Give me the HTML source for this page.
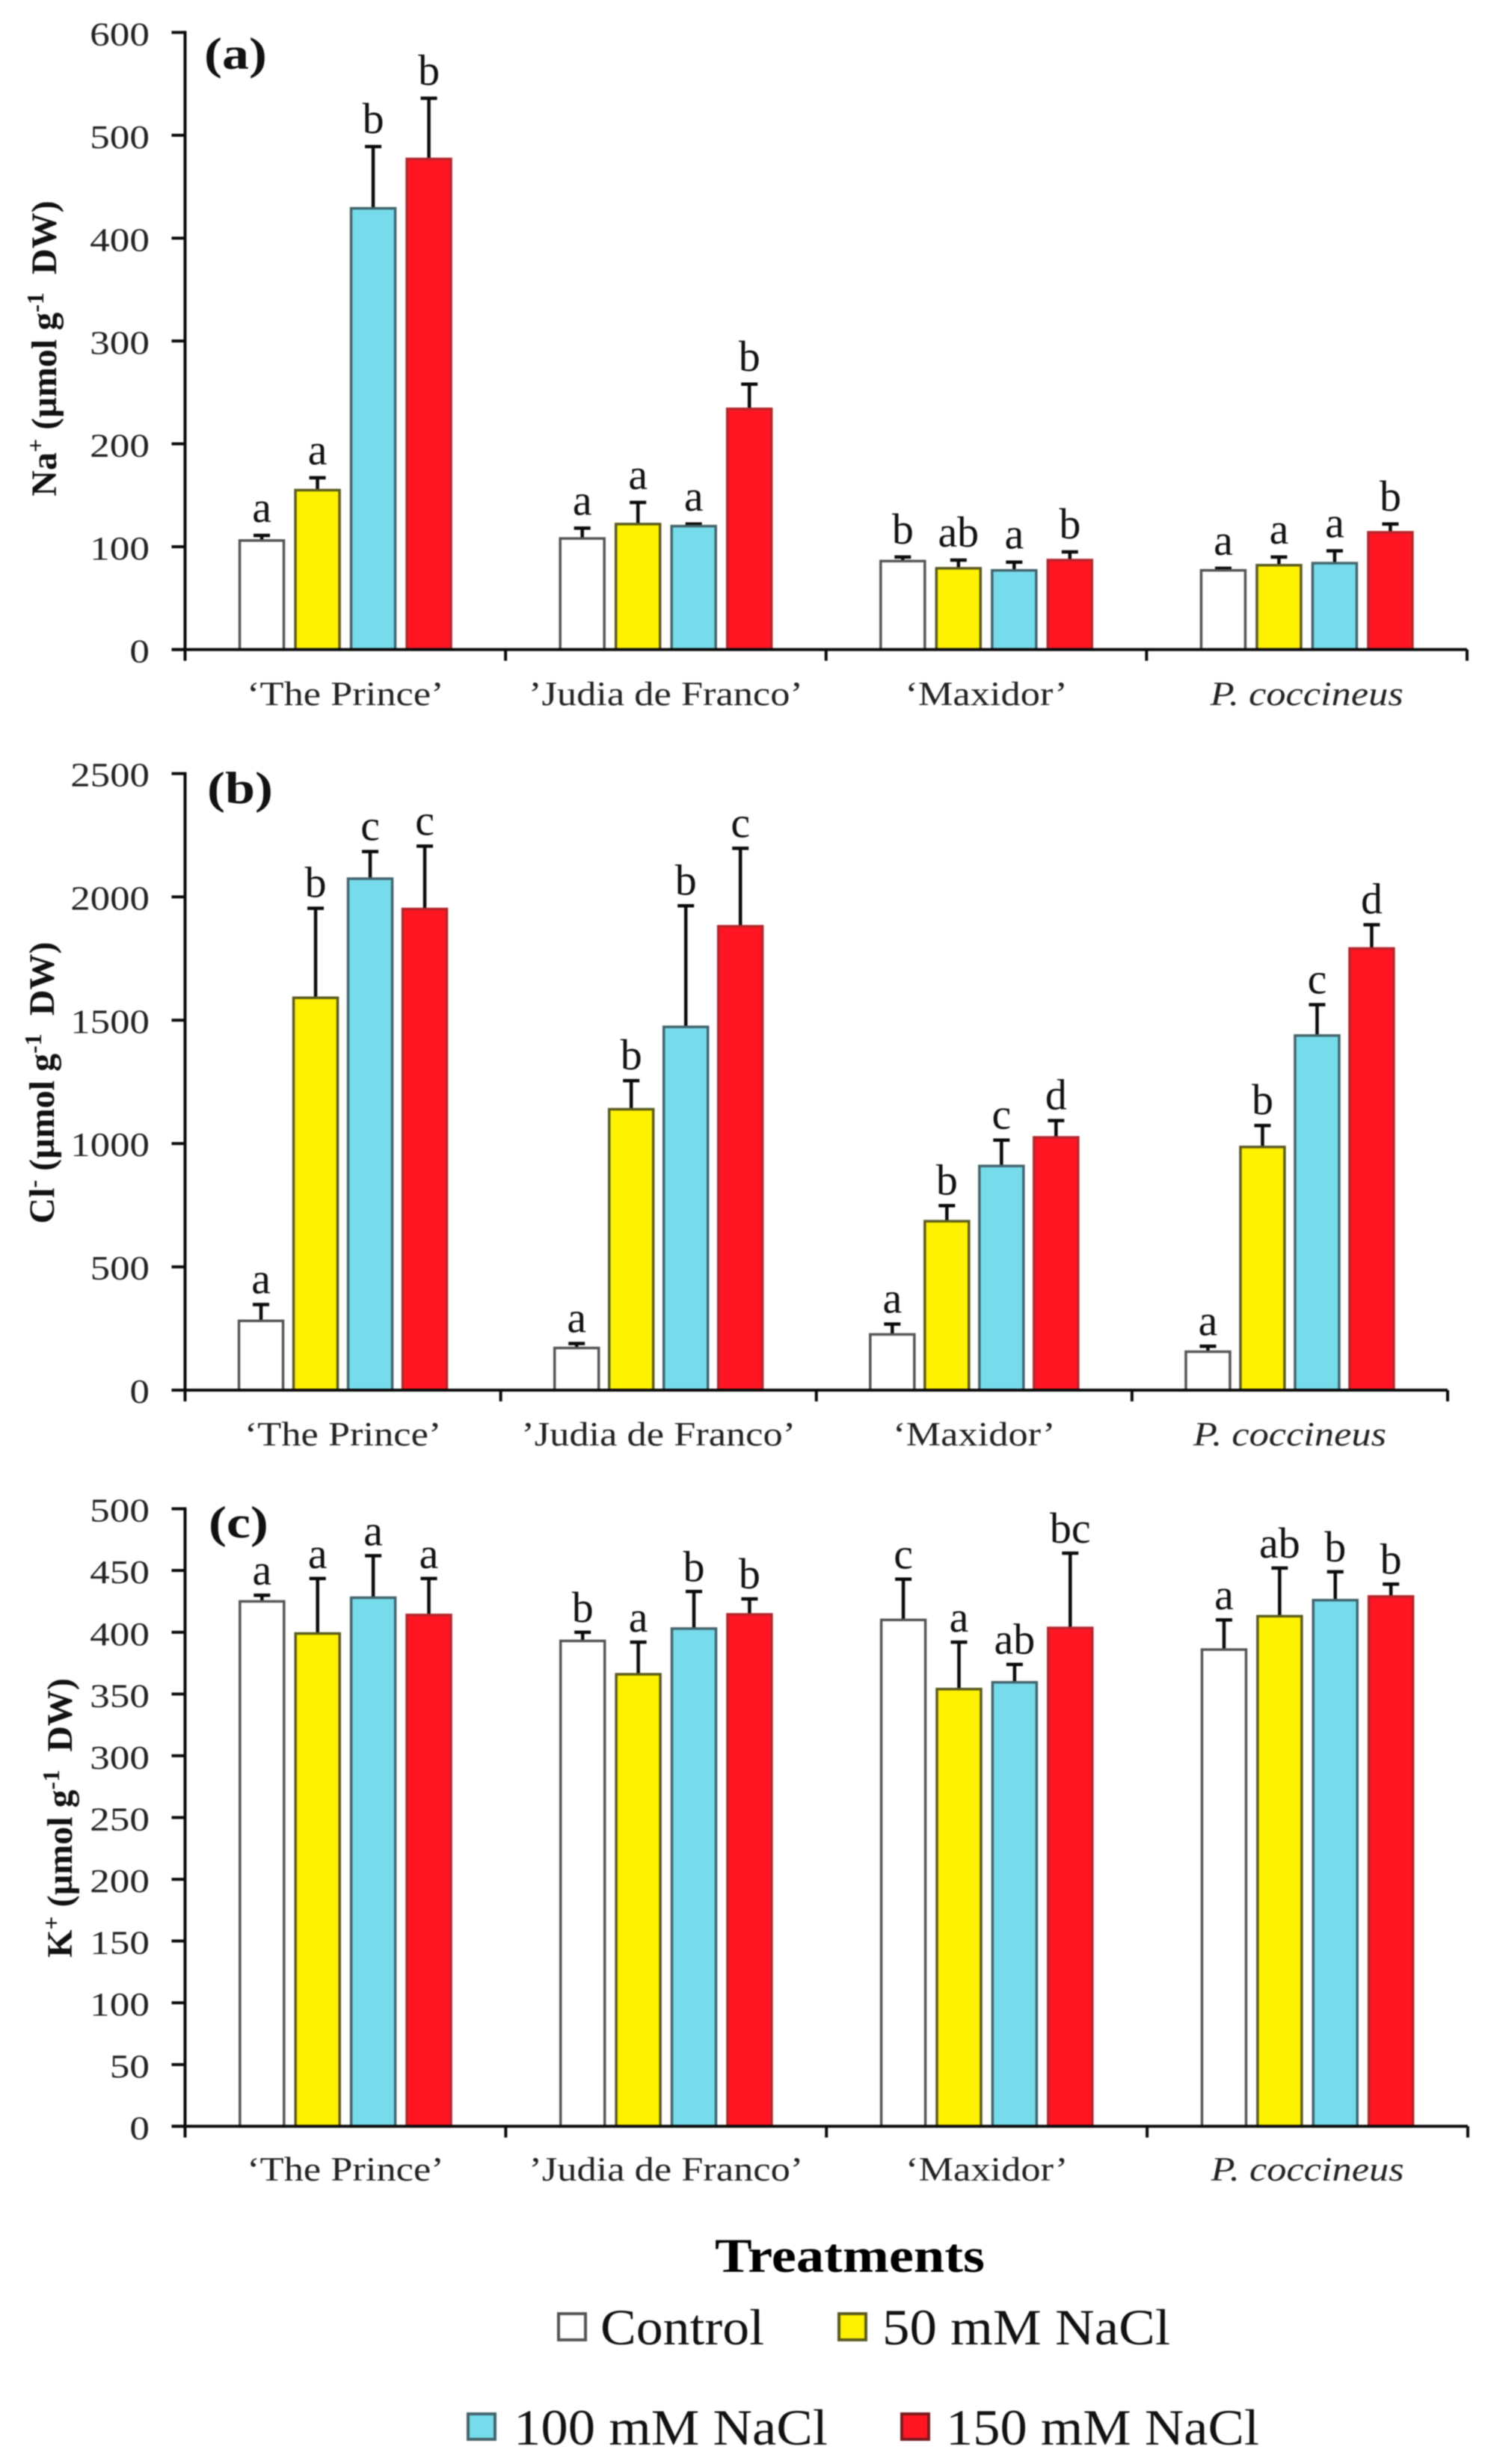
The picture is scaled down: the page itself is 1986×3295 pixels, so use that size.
<!DOCTYPE html>
<html lang="en">
<head>
<meta charset="utf-8">
<title>Na+, Cl- and K+ content by treatment</title>
<style>
html,body{margin:0;padding:0;background:#fff;}
svg{display:block;filter:blur(0.7px);font-family:"Liberation Serif",serif;}
</style>
</head>
<body>
<svg id="figure" xmlns="http://www.w3.org/2000/svg" width="1986" height="3295" viewBox="0 0 1986 3295">
  <rect width="1986" height="3295" fill="#ffffff"/>

  <text transform="translate(75,466) rotate(-90)" text-anchor="middle" font-size="48" font-weight="bold" fill="#111">Na<tspan dy="-17" font-size="32">+</tspan><tspan dy="17"> (µmol g</tspan><tspan dy="-17" font-size="32">-1</tspan><tspan dy="17">&#160; DW)</tspan></text>
  <text transform="translate(72,1448) rotate(-90)" text-anchor="middle" font-size="48" font-weight="bold" fill="#111">Cl<tspan dy="-17" font-size="32">-</tspan><tspan dy="17"> (µmol g</tspan><tspan dy="-17" font-size="32">-1</tspan><tspan dy="17">&#160; DW)</tspan></text>
  <text transform="translate(96,2431) rotate(-90)" text-anchor="middle" font-size="48" font-weight="bold" fill="#111">K<tspan dy="-17" font-size="32">+</tspan><tspan dy="17"> (µmol g</tspan><tspan dy="-17" font-size="32">-1</tspan><tspan dy="17">&#160; DW)</tspan></text>

  <text transform="translate(273,92) scale(1.2,1)" font-size="60" font-weight="bold" fill="#111">(a)</text>
  <text transform="translate(277,1074) scale(1.2,1)" font-size="60" font-weight="bold" fill="#111">(b)</text>
  <text transform="translate(279,2056) scale(1.2,1)" font-size="60" font-weight="bold" fill="#111">(c)</text>

  <text x="956" y="3038" font-size="65" font-weight="bold" fill="#000" textLength="361" lengthAdjust="spacingAndGlyphs">Treatments</text>

  <g>
    <g>
      <rect x="747" y="3094" width="36" height="35" fill="#ffffff" stroke="#555555" stroke-width="4"/>
      <text x="803" y="3135" font-size="68" fill="#111" textLength="219" lengthAdjust="spacingAndGlyphs">Control</text>
    </g>
    <g>
      <rect x="1122" y="3094" width="36" height="35" fill="#fff200" stroke="#5a5a20" stroke-width="4"/>
      <text x="1180" y="3135" font-size="68" fill="#111" textLength="385" lengthAdjust="spacingAndGlyphs">50 mM NaCl</text>
    </g>
    <g>
      <rect x="626" y="3228" width="36" height="34" fill="#76dcec" stroke="#44646c" stroke-width="4"/>
      <text x="687" y="3269" font-size="68" fill="#111" textLength="420" lengthAdjust="spacingAndGlyphs">100 mM NaCl</text>
    </g>
    <g>
      <rect x="1206" y="3228" width="36" height="34" fill="#ff1622" stroke="#7a1a1f" stroke-width="4"/>
      <text x="1265" y="3269" font-size="68" fill="#111" textLength="419" lengthAdjust="spacingAndGlyphs">150 mM NaCl</text>
    </g>
  </g>
</svg>

<script>
// Categories
const cultivars = ["\u2018The Prince\u2019", "\u2019Judia de Franco\u2019", "\u2018Maxidor\u2019", "P. coccineus"];
const treatments = ["control", "50-mm", "100-mm", "150-mm"];

// Tick labels
const naTicks = [0, 100, 200, 300, 400, 500, 600];
const clTicks = [0, 500, 1000, 1500, 2000, 2500];
const kTicks = [0, 50, 100, 150, 200, 250, 300, 350, 400, 450, 500];

// (a) Na+
const naControl = [106, 108, 86, 77];
const na50 = [155, 122, 79, 82];
const na100 = [429, 120, 77, 84];
const na150 = [477, 234, 87, 114];
const naControlErr = [5, 10, 4, 2];
const na50Err = [12, 21, 8, 8];
const na100Err = [60, 2, 8, 12];
const na150Err = [59, 24, 8, 8];
const naControlLetters = ["a", "a", "b", "a"];
const na50Letters = ["a", "a", "ab", "a"];
const na100Letters = ["b", "a", "a", "a"];
const na150Letters = ["b", "b", "b", "b"];

// (b) Cl-
const clControl = [281, 171, 226, 156];
const cl50 = [1591, 1139, 685, 986];
const cl100 = [2074, 1473, 909, 1438];
const cl150 = [1951, 1881, 1025, 1791];
const clControlErr = [66, 18, 42, 22];
const cl50Err = [363, 116, 63, 87];
const cl100Err = [110, 491, 105, 125];
const cl150Err = [255, 316, 68, 96];
const clControlLetters = ["a", "a", "a", "a"];
const cl50Letters = ["b", "b", "b", "b"];
const cl100Letters = ["c", "b", "c", "c"];
const cl150Letters = ["c", "c", "d", "d"];

// (c) K+
const kControl = [425, 393, 410, 386];
const k50 = [399, 366, 354, 413];
const k100 = [428, 403, 359.5, 426];
const k150 = [414, 414.5, 403.5, 429];
const kControlErr = [5, 7, 33, 24];
const k50Err = [44.5, 26, 38, 39];
const k100Err = [34, 30, 14.5, 23];
const k150Err = [29.5, 12.5, 60.5, 10];
const kControlLetters = ["a", "b", "c", "a"];
const k50Letters = ["a", "a", "a", "ab"];
const k100Letters = ["a", "b", "ab", "b"];
const k150Letters = ["a", "b", "bc", "b"];

const SVG_NS = "http://www.w3.org/2000/svg";
const figure = document.getElementById("figure");
const fills = ["#ffffff", "#fff200", "#76dcec", "#ff1622"];
const strokes = ["#555555", "#5a5a20", "#44646c", "#b5262c"];

function mk(tag, parent) {
  const node = document.createElementNS(SVG_NS, tag);
  parent.appendChild(node);
  return node;
}

function line(parent, x1, y1, x2, y2, width, color) {
  const l = mk("line", parent);
  l.setAttribute("x1", x1);
  l.setAttribute("y1", y1);
  l.setAttribute("x2", x2);
  l.setAttribute("y2", y2);
  l.setAttribute("stroke", color);
  l.setAttribute("stroke-width", width);
  return l;
}

function drawPanel(id, means, errs, letters, ticks, g) {
  const yMax = ticks[ticks.length - 1];
  const y = v => g.yZero + (g.yTop - g.yZero) * (v / yMax);
  const band = (g.xEnd - g.xStart) / cultivars.length;
  const groupCenter = c => g.xStart + band * (c + 0.5);
  const barCenter = (c, s) => groupCenter(c) + (s - (treatments.length - 1) / 2) * g.pitch;

  const panel = mk("g", figure);
  
  

  // bars, error bars and significance letters
  means.forEach((series, s) => {
    series.forEach((v, c) => {
      const cx = barCenter(c, s);
      const top = y(v + errs[s][c]);

      const err = line(panel, cx, y(v), cx, top, 4.5, "#0a0a0a");
      
      

      const cap = line(panel, cx - 11, top, cx + 11, top, 4.5, "#0a0a0a");
      
      

      const bar = mk("rect", panel);
      
      
      bar.setAttribute("x", cx - 29.5);
      bar.setAttribute("y", y(v));
      bar.setAttribute("width", 59);
      bar.setAttribute("height", y(0) - y(v));
      bar.setAttribute("fill", fills[s]);
      bar.setAttribute("stroke", strokes[s]);
      bar.setAttribute("stroke-width", 3.5);

      const letter = mk("text", panel);
      
      
      letter.setAttribute("x", cx);
      letter.setAttribute("y", top - g.letterGap);
      letter.setAttribute("text-anchor", "middle");
      letter.setAttribute("font-size", 58);
      letter.setAttribute("fill", "#111");
      letter.textContent = letters[s][c];
    });
  });

  // y axis
  const yAxis = line(panel, g.xStart, y(yMax) - 2, g.xStart, y(0) + 15, 4, "#0a0a0a");
  
  

  ticks.forEach(t => {
    const mark = line(panel, g.xStart - 18, y(t), g.xStart, y(t), 4, "#0a0a0a");
    
    

    const label = mk("text", panel);
    
    
    label.setAttribute("transform", "translate(200," + (y(t) + 17) + ") scale(" + g.tickScale + ",1)");
    label.setAttribute("text-anchor", "end");
    label.setAttribute("font-size", g.tickSize);
    label.setAttribute("fill", "#222");
    label.textContent = t;
  });

  // x axis
  const xAxis = line(panel, g.xStart - 18, y(0), g.xEnd, y(0), 4, "#0a0a0a");
  
  

  for (let c = 1; c <= cultivars.length; c++) {
    const x = g.xStart + band * c;
    const mark = line(panel, x, y(0), x, y(0) + 15, 4, "#0a0a0a");
    
    
  }

  cultivars.forEach((name, c) => {
    const label = mk("text", panel);
    
    
    label.setAttribute("transform", "translate(" + groupCenter(c) + "," + g.labelY + ") scale(1.14,1)");
    label.setAttribute("text-anchor", "middle");
    label.setAttribute("font-size", 46);
    label.setAttribute("fill", "#222");
    if (c === cultivars.length - 1) {
      label.setAttribute("font-style", "italic");
    }
    label.textContent = name;
  });
}

drawPanel("na",
  [naControl, na50, na100, na150],
  [naControlErr, na50Err, na100Err, na150Err],
  [naControlLetters, na50Letters, na100Letters, na150Letters],
  naTicks,
  { xStart: 247.5, xEnd: 1962, yTop: 43.4, yZero: 868.6, pitch: 74.5, labelY: 943, tickSize: 44, tickScale: 1.21, letterGap: 18 });

drawPanel("cl",
  [clControl, cl50, cl100, cl150],
  [clControlErr, cl50Err, cl100Err, cl150Err],
  [clControlLetters, cl50Letters, cl100Letters, cl150Letters],
  clTicks,
  { xStart: 247.5, xEnd: 1936, yTop: 1034.5, yZero: 1859, pitch: 73, labelY: 1933, tickSize: 46, tickScale: 1.15, letterGap: 15 });

drawPanel("k",
  [kControl, k50, k100, k150],
  [kControlErr, k50Err, k100Err, k150Err],
  [kControlLetters, k50Letters, k100Letters, k150Letters],
  kTicks,
  { xStart: 247.5, xEnd: 1963, yTop: 2017.6, yZero: 2843.4, pitch: 74.4, labelY: 2916, tickSize: 44, tickScale: 1.21, letterGap: 14 });
</script>
</body>
</html>
